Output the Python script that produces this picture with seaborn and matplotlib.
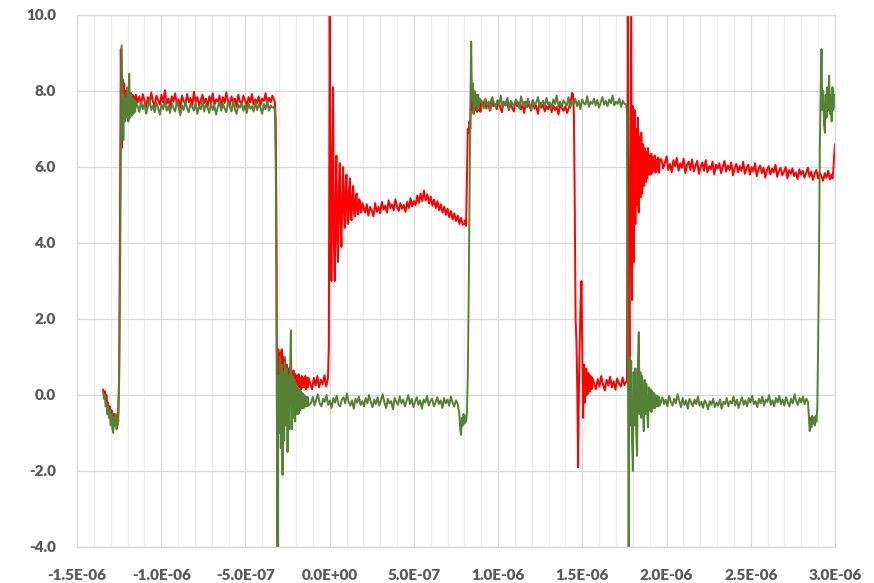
import numpy as np
import pandas as pd
import matplotlib
matplotlib.use("Agg")
import matplotlib.pyplot as plt
import seaborn as sns
from matplotlib.ticker import MultipleLocator, FuncFormatter

# ---------------- data (time in microseconds, signal in volts) ----------------
# Each segment: evenly sampled between a start and an end time.
G1 = [0.1, -0.1, 0.0, -0.3, -0.2, -0.5, -0.3, -0.6, -0.4, -0.8,
      -0.5, -0.9, -1.0, -0.6, -0.8, -0.5, -0.9, -0.6, -0.7, 0.3,
      2.5, 6.0, 9.2, 8.0, 6.7, 7.9, 7.2, 7.8, 7.3, 8.1,
      7.2, 8.45, 7.3, 7.9, 7.35, 7.8, 7.4, 7.75, 7.45, 7.7]
G2 = [7.60, 7.45, 7.72, 7.52, 7.66, 7.40, 7.58, 7.76, 7.50, 7.62,
      7.44, 7.70, 7.56, 7.38, 7.64, 7.52, 7.78, 7.48, 7.60, 7.42,
      7.68, 7.55, 7.46, 7.72, 7.58, 7.36, 7.62, 7.50, 7.74, 7.54,
      7.44, 7.66, 7.58, 7.48, 7.70, 7.40, 7.60, 7.52, 7.76, 7.46,
      7.64, 7.56, 7.42, 7.68, 7.50, 7.62, 7.38, 7.58, 7.72, 7.48,
      7.66, 7.54, 7.44, 7.70, 7.60, 7.46, 7.74, 7.52, 7.40, 7.64,
      7.56, 7.70, 7.48, 7.62, 7.42, 7.68, 7.54, 7.60, 7.46, 7.72,
      7.50, 7.64, 7.56, 7.40, 7.66, 7.52, 7.74, 7.48, 7.62, 7.56, 7.60]
G3 = [7.45, 6.0, 1.0, -4.0, 0.5, -1.0, 1.0, -1.4, 0.8, -2.1,
      0.6, -1.2, 1.0, -0.8, 0.7, -1.5, 0.5, -0.9, 0.6, 1.7,
      -0.9, 0.5, -0.6, 0.4, -0.7, 0.3, -0.5, 0.2, -0.5, 0.15,
      -0.4, 0.1, -0.35, 0.05, -0.35, 0.0, -0.3, -0.05, -0.3, -0.05, -0.28]
G4 = [-0.20, -0.05, -0.28, -0.12, 0.02, -0.22, -0.30, -0.10, -0.18, 0.00,
      -0.26, -0.15, -0.34, -0.08, -0.20, -0.02, -0.24, -0.30, -0.12, -0.06,
      -0.22, 0.04, -0.18, -0.28, -0.14, -0.36, -0.10, -0.20, -0.04, -0.26,
      -0.16, -0.30, -0.08, -0.22, 0.00, -0.18, -0.32, -0.12, -0.24, -0.06,
      -0.28, -0.14, 0.02, -0.20, -0.34, -0.10, -0.22, -0.16, -0.38, -0.08,
      -0.18, -0.26, -0.04, -0.22, -0.12, -0.30, -0.16, 0.00, -0.24, -0.10,
      -0.32, -0.18, -0.06, -0.26, -0.14, -0.36, -0.12, -0.20, -0.02, -0.28,
      -0.16, -0.10, -0.30, -0.20, -0.06, -0.24, -0.14, -0.34, -0.08, -0.22,
      -0.12, -0.28, -0.04, -0.20, -0.30, -0.14, -0.24]
G5 = [-0.5, -0.9, -1.05, -0.6, -0.8, -0.5, -0.75, -0.55, -0.7, -0.45,
      0.5, 2.5, 5.0, 7.5, 9.3, 7.8, 8.2, 7.4, 8.0, 7.6,
      7.9, 7.5, 7.85, 7.55, 7.8]
G6 = [7.66, 7.54, 7.80, 7.62, 7.72, 7.50, 7.84, 7.68, 7.58, 7.76,
      7.64, 7.88, 7.56, 7.70, 7.62, 7.82, 7.52, 7.74, 7.66, 7.60,
      7.78, 7.68, 7.54, 7.86, 7.64, 7.72, 7.58, 7.80, 7.66, 7.50,
      7.76, 7.62, 7.70, 7.84, 7.56, 7.68, 7.74, 7.60, 7.82, 7.64,
      7.70, 7.54, 7.78, 7.66, 7.88, 7.60, 7.72, 7.58, 7.76, 7.68,
      7.62, 7.84, 7.56, 7.70, 7.66, 7.80, 7.60, 7.74, 7.52, 7.78,
      7.68, 7.64, 7.86, 7.58, 7.72, 7.66, 7.80, 7.62, 7.76, 7.56,
      7.70, 7.84, 7.64, 7.74, 7.60, 7.78, 7.68, 7.88, 7.62, 7.72,
      7.66, 7.80, 7.58, 7.74, 7.66]
G7 = [7.65, 7.4, 2.0, -4.0, 1.0, -0.8, 0.9, -1.2, -2.0, 0.6,
      -0.8, 0.7, -1.0, -1.6, 0.8, 1.65, -0.5, 0.6, -0.6, 0.5,
      -0.4, -0.95, 0.4, -0.5, 0.3, -0.4, -0.85, 0.2, -0.4, 0.15,
      -0.45, 0.1, -0.35, 0.05, -0.35, 0.0, -0.3, -0.02, -0.3, -0.05, -0.28]
G8 = [-0.06, -0.24, -0.12, -0.30, -0.02, -0.18, -0.28, -0.10, -0.22, 0.02,
      -0.16, -0.32, -0.08, -0.26, -0.14, -0.36, -0.10, -0.20, -0.30, -0.12,
      -0.24, -0.04, -0.28, -0.18, -0.34, -0.14, -0.22, -0.38, -0.16, -0.26,
      -0.10, -0.32, -0.20, -0.28, -0.12, -0.36, -0.18, -0.24, -0.08, -0.30,
      -0.16, -0.22, -0.04, -0.28, -0.12, -0.34, -0.18, -0.06, -0.26, -0.14,
      -0.30, -0.08, -0.20, -0.02, -0.24, -0.16, -0.32, -0.10, -0.22, -0.04,
      -0.28, -0.12, -0.18, 0.00, -0.26, -0.14, -0.30, -0.08, -0.20, -0.02,
      -0.24, -0.12, -0.28, -0.06, -0.18, -0.30, -0.10, -0.22, 0.02, -0.16,
      -0.26, -0.08, -0.20, -0.04, -0.24, -0.10, -0.18]
G9 = [-0.6, -0.95, -0.6, -0.85, -0.55, -0.75, -0.6, -0.8, -0.55, -0.7,
      -0.3, 1.4, 3.5, 6.5, 8.0, 9.1, 7.5, 8.0, 7.1, 6.9,
      7.9, 7.3, 8.1, 7.5, 8.4, 7.4, 7.9, 7.2, 8.1, 7.5, 7.9, 7.6]

green_segments = [(-1.345, -1.150, G1), (-1.140, -0.330, G2), (-0.325, -0.125, G3),
                  (-0.110, 0.760, G4), (0.770, 0.890, G5), (0.905, 1.750, G6),
                  (1.760, 1.960, G7), (1.975, 2.840, G8), (2.845, 3.000, G9)]

R1 = [0.15, 0.0, 0.1, -0.1, 0.0, -0.3, -0.2, -0.5, -0.3, -0.6,
      -0.4, -0.7, -0.5, -0.8, -0.5, -0.7, -0.6, -0.8, -0.4, 0.5,
      4.5, 9.1, 6.5, 8.3, 7.2, 8.2, 7.3, 8.0, 7.5, 7.9,
      7.45, 7.85, 7.5, 7.95, 7.55, 7.9, 7.6, 7.85, 7.55, 7.9]
R2 = [7.70, 7.86, 7.62, 7.92, 7.74, 7.58, 7.84, 7.68, 7.96, 7.72,
      7.60, 7.88, 7.76, 7.64, 7.90, 7.70, 8.02, 7.66, 7.80, 7.58,
      7.86, 7.72, 7.94, 7.64, 7.78, 7.56, 7.88, 7.74, 7.66, 7.92,
      7.70, 7.82, 7.60, 7.98, 7.72, 7.84, 7.62, 7.76, 7.90, 7.68,
      7.80, 7.58, 7.86, 7.70, 7.94, 7.64, 7.78, 7.72, 7.88, 7.60,
      7.84, 7.68, 7.96, 7.74, 7.62, 7.86, 7.70, 7.80, 7.58, 7.90,
      7.72, 7.66, 7.88, 7.76, 7.60, 7.84, 7.70, 7.92, 7.64, 7.78,
      7.68, 7.86, 7.62, 7.80, 7.74, 7.94, 7.66, 7.82, 7.70, 7.88, 7.76]
R3 = [7.7, 7.2, 4.0, -4.0, 1.2, -0.6, 1.1, -0.2, 1.2, 0.0,
      1.0, 0.1, 0.9, 0.2, 0.8, 0.1, 0.7, 0.25, 0.75, 0.2,
      0.6, 0.3, 0.65, 0.25, 0.55, 0.2, 0.5, 0.25, 0.55, 0.2,
      0.45, 0.15, 0.5, 0.2, 0.45, 0.2, 0.5, 0.15, 0.45, 0.2, 0.45]
R4 = [0.30, 0.15, 0.45, 0.25, 0.50, 0.20, 0.40, 0.28, 0.52, 0.22, 0.45]
R5 = [1.3, 10.3, 6.0, 3.0, 5.5, 8.1, 4.0, 3.0, 5.0, 6.3,
      4.0, 3.5, 5.5, 6.1, 4.5, 3.9, 5.2, 6.0, 4.8, 4.4,
      5.5, 5.8, 4.6, 4.5, 5.4, 5.7, 4.7, 4.6, 5.3, 5.5,
      4.8, 4.7, 5.2, 5.3, 4.8, 4.75, 5.15, 5.1, 4.8, 4.85, 5.05]
R6 = [4.80, 5.02, 4.72, 4.95, 4.85, 4.70, 5.05, 4.82, 4.95, 4.78,
      5.08, 4.88, 4.98, 4.80, 5.12, 4.92, 5.02, 4.86, 5.15, 4.95,
      4.84, 5.05, 4.90, 5.00, 4.82, 5.08, 4.92, 5.18, 4.96, 5.10,
      5.00, 5.25, 5.06, 5.30, 5.10, 5.38, 5.12, 5.28, 5.04, 5.22,
      4.98, 5.14, 4.92, 5.10, 4.86, 5.02, 4.80, 4.96, 4.74, 4.90,
      4.68, 4.84, 4.62, 4.78, 4.58, 4.72, 4.50, 4.66, 4.48]
R7 = [4.5, 4.6, 4.45, 5.8, 7.0, 6.9, 7.2, 7.0, 7.9, 7.5,
      8.0, 7.4, 7.9, 7.5, 7.85, 7.45, 7.9, 7.5, 7.8, 7.45, 7.75]
R8 = [7.62, 7.76, 7.54, 7.70, 7.48, 7.80, 7.60, 7.66, 7.52, 7.74,
      7.58, 7.44, 7.72, 7.62, 7.78, 7.50, 7.68, 7.56, 7.46, 7.74,
      7.60, 7.70, 7.52, 7.64, 7.42, 7.72, 7.58, 7.66, 7.48, 7.76,
      7.54, 7.62, 7.40, 7.70, 7.56, 7.64, 7.46, 7.60, 7.52, 7.68,
      7.44, 7.62, 7.50, 7.58, 7.38, 7.66, 7.54, 7.48, 7.60, 7.42,
      7.56, 7.70, 7.95]
R9 = [7.9, 7.4, 5.0, 2.0, 1.4, 0.2, -1.9, 0.3, 1.5, 2.5,
      3.0, 1.0, -0.6, 0.8, -0.2, 0.7, 0.0, 0.6, 0.05, 0.55,
      0.1, 0.5, 0.15, 0.45]
R10 = [0.30, 0.15, 0.42, 0.22, 0.50, 0.28, 0.12, 0.40, 0.25, 0.48,
       0.20, 0.36, 0.14, 0.44, 0.30, 0.22, 0.46, 0.26, 0.34]
R11 = [0.4, 10.3, 4.0, 1.0, 5.5, 10.3, 2.5, 7.6, 3.5, 7.5,
       4.5, 7.0, 5.0, 7.3, 4.8, 6.8, 5.2, 6.9, 5.3, 6.6,
       5.5, 6.5, 5.6, 6.4, 5.7, 6.5, 5.8, 6.3, 5.8, 6.35,
       5.85, 6.25, 5.9, 6.3, 5.85, 6.2, 5.9, 6.25, 5.85, 6.2]
R12 = [6.20, 5.96, 6.12, 6.28, 5.92, 6.08, 5.86, 6.18, 6.02, 6.24,
       5.90, 6.10, 5.98, 6.22, 5.84, 6.06, 6.14, 5.92, 6.20, 5.88,
       6.04, 6.16, 5.82, 6.00, 6.12, 5.90, 6.18, 5.86, 6.02, 5.94,
       6.14, 5.80, 6.06, 5.96, 6.10, 5.84, 6.00, 6.16, 5.88, 6.04,
       5.92, 6.12, 5.78, 5.98, 6.08, 5.86, 6.02, 5.90, 6.14, 5.82,
       5.96, 6.06, 5.80, 6.00, 5.88, 6.10, 5.76, 5.94, 6.04, 5.84,
       5.98, 5.72, 5.92, 6.02, 5.80, 5.96, 5.86, 6.06, 5.74, 5.90,
       5.98, 5.78, 5.88, 6.00, 5.70, 5.92, 5.82, 5.96, 5.76, 5.86,
       5.68, 5.94, 5.80, 5.90, 5.72, 5.84, 5.98, 5.74, 5.88, 5.66,
       5.82, 5.92, 5.70, 5.86, 5.76, 5.64, 5.84, 5.72, 5.90, 5.68, 5.80]
R13 = [5.7, 5.9, 6.3, 6.6]

red_segments = [(-1.345, -1.150, R1), (-1.140, -0.330, R2), (-0.325, -0.125, R3),
                (-0.115, -0.010, R4), (-0.005, 0.195, R5), (0.210, 0.790, R6),
                (0.800, 0.900, R7), (0.910, 1.440, R8), (1.445, 1.560, R9),
                (1.570, 1.760, R10), (1.765, 1.960, R11), (1.970, 2.980, R12),
                (2.985, 3.000, R13)]

x_ticks_us = [-1.5, -1.0, -0.5, 0.0, 0.5, 1.0, 1.5, 2.0, 2.5, 3.0]
y_ticks = [-4.0, -2.0, 0.0, 2.0, 4.0, 6.0, 8.0, 10.0]


def build(segments, name):
    t, v = [], []
    for a, b, vals in segments:
        t.extend(np.linspace(a, b, len(vals)))
        v.extend(vals)
    return pd.DataFrame({"t": np.array(t) * 1e-6, "v": v, "series": name})


df = pd.concat([build(red_segments, "red"), build(green_segments, "green")],
               ignore_index=True)

# ---------------- plotting ----------------
sns.set_style("whitegrid")
plt.rcParams["font.family"] = ["Lato", "DejaVu Sans"]

fig = plt.figure(figsize=(8.74, 5.83), dpi=100)
ax = fig.add_axes([77 / 874, 1 - 547 / 583, (835 - 77) / 874, (547 - 15) / 583])

sns.lineplot(data=df, x="t", y="v", hue="series", hue_order=["red", "green"],
             palette={"red": "#FF0000", "green": "#548235"}, units="series",
             estimator=None, sort=False, linewidth=1.4, legend=False, ax=ax)

ax.set_xlim(-1.5e-6, 3.0e-6)
ax.set_ylim(-4, 10)
ax.set_xticks([x * 1e-6 for x in x_ticks_us])
ax.xaxis.set_minor_locator(MultipleLocator(1e-7))
ax.set_yticks(y_ticks)


def fmt_x(x, pos):
    if abs(x) < 1e-12:
        x = 0.0
    return f"{x:.1E}"


ax.xaxis.set_major_formatter(FuncFormatter(fmt_x))
ax.yaxis.set_major_formatter(FuncFormatter(lambda y, p: f"{y:.1f}"))

ax.grid(which="major", axis="both", color="#d9d9d9", linewidth=0.9)
ax.grid(which="minor", axis="x", color="#eeeeee", linewidth=0.9)
ax.grid(which="minor", axis="y", visible=False)
ax.set_axisbelow(True)
for s in ax.spines.values():
    s.set_color("#d9d9d9")
    s.set_linewidth(0.9)

ax.tick_params(axis="both", which="both", length=0, labelsize=11,
               labelcolor="#595959")
ax.tick_params(axis="x", pad=16)
ax.tick_params(axis="y", pad=15)
for lab in ax.get_xticklabels() + ax.get_yticklabels():
    lab.set_fontweight("heavy")

ax.set_xlabel("")
ax.set_ylabel("")

fig.savefig("out.png", dpi=100)
